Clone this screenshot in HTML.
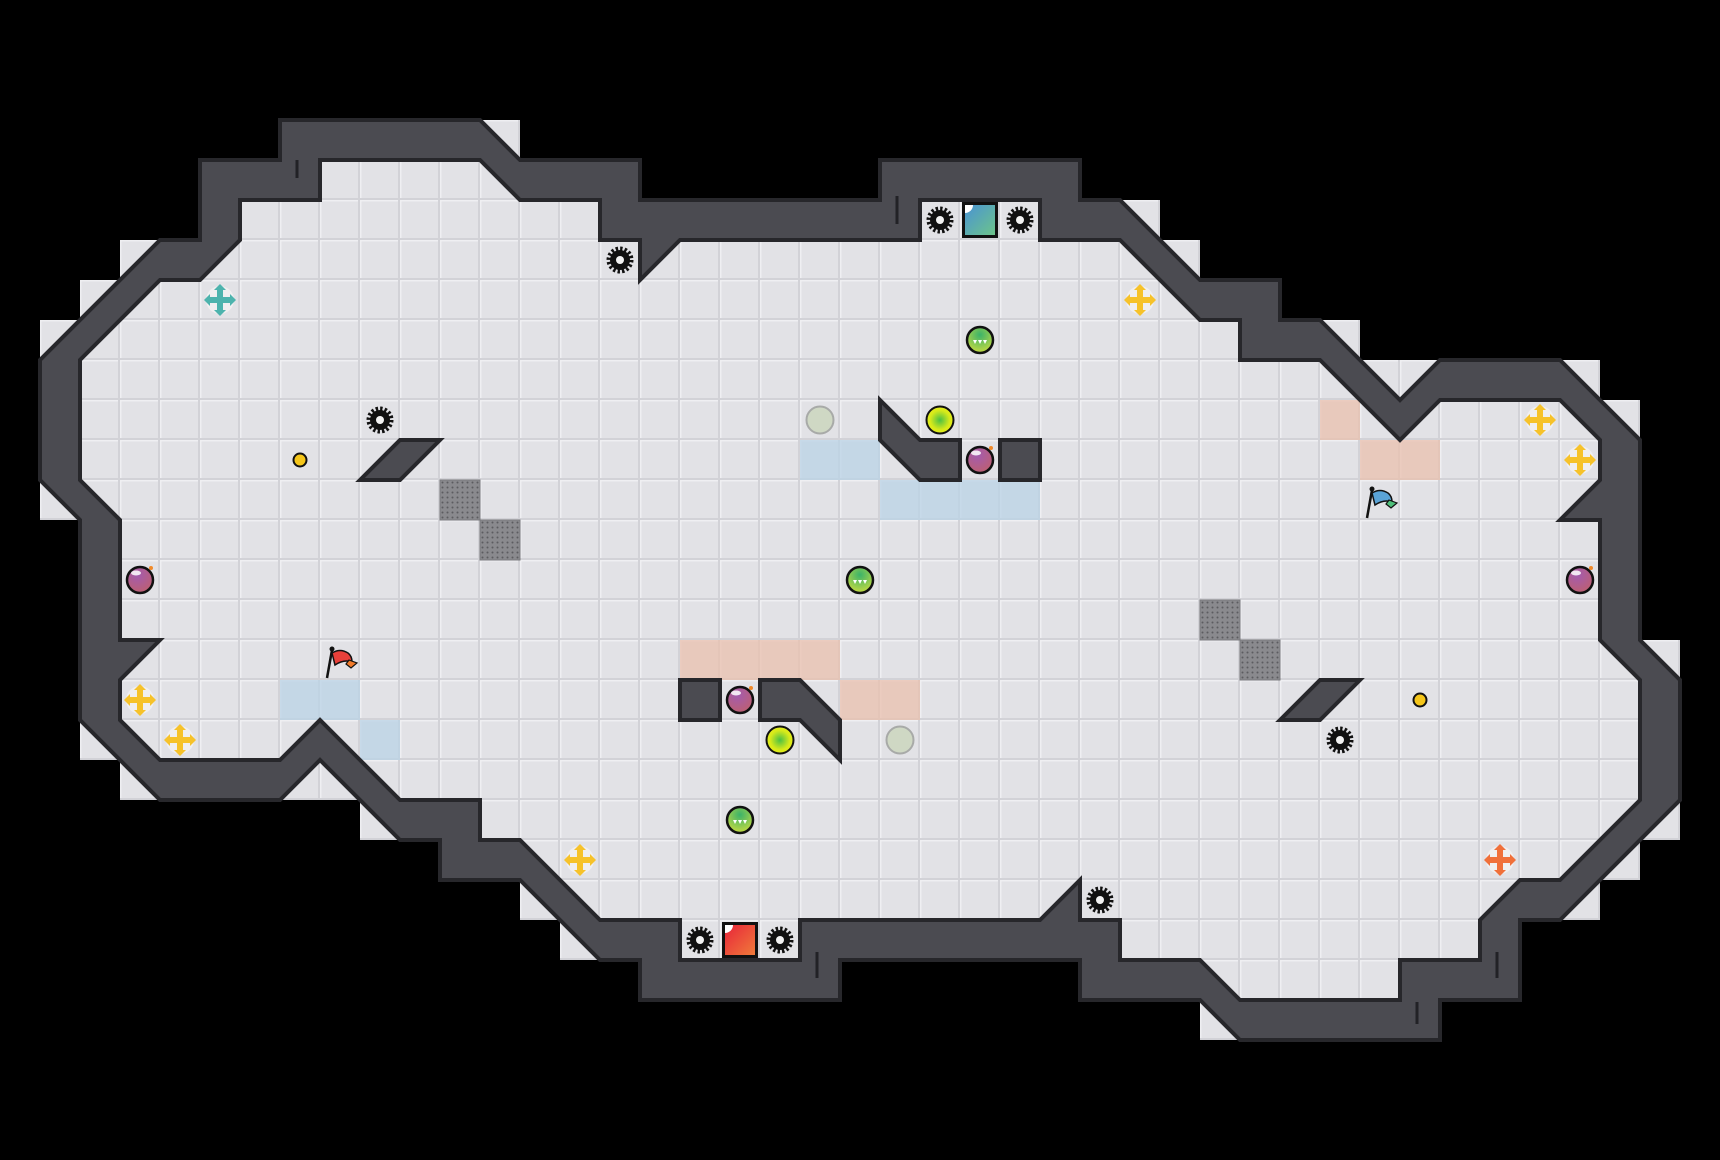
<!DOCTYPE html>
<html><head><meta charset="utf-8"><style>
html,body{margin:0;padding:0;background:#000;width:1720px;height:1160px;overflow:hidden}
svg{display:block}
</style></head><body>
<svg id="s" xmlns="http://www.w3.org/2000/svg" width="1720" height="1160" viewBox="0 0 1720 1160">
<defs>
<pattern id="tile" width="40" height="40" patternUnits="userSpaceOnUse">
<rect width="40" height="40" fill="#e2e2e6"/>
<rect x="0" y="0" width="40" height="1.5" fill="#efeff2"/>
<rect x="0" y="0" width="1.5" height="40" fill="#efeff2"/>
<rect x="38" y="0" width="2" height="40" fill="#d2d2d7"/>
<rect x="0" y="38" width="40" height="2" fill="#d2d2d7"/>
</pattern>
<radialGradient id="gPurp" cx="0.4" cy="0.3" r="0.8"><stop offset="0" stop-color="#a35bb0"/><stop offset="1" stop-color="#c0606a"/></radialGradient>
<radialGradient id="gGreen" cx="0.5" cy="0.3" r="0.8"><stop offset="0" stop-color="#3bb36a"/><stop offset="1" stop-color="#d8e03a"/></radialGradient>
<radialGradient id="gYel" cx="0.5" cy="0.5" r="0.6"><stop offset="0" stop-color="#4cc043"/><stop offset="0.6" stop-color="#d7ea1a"/><stop offset="1" stop-color="#eef01a"/></radialGradient>
<linearGradient id="gBlueP" x1="0" y1="0" x2="1" y2="1"><stop offset="0" stop-color="#4a93d4"/><stop offset="1" stop-color="#6cc48a"/></linearGradient>
<linearGradient id="gRedP" x1="0" y1="0" x2="1" y2="1"><stop offset="0" stop-color="#e8253a"/><stop offset="1" stop-color="#f07a3a"/></linearGradient>
<pattern id="grate" width="5" height="5" patternUnits="userSpaceOnUse"><rect width="5" height="5" fill="#8a8a8e"/><circle cx="2.5" cy="2.5" r="1" fill="#5c5c60"/></pattern>
</defs>
<g id="floor"></g>
<g id="over"></g>
<g id="walls"></g>
<g id="items"></g>
</svg>
<script>
var NS="http://www.w3.org/2000/svg";
function el(p,t,a){var e=document.createElementNS(NS,t);for(var k in a)e.setAttribute(k,a[k]);p.appendChild(e);return e;}
var T=40;
var outer=[[7,3],[12,3],[13,4],[16,4],[16,5],[22,5],[22,4],[27,4],[27,5],[28,5],[30,7],[32,7],[32,8],[33,8],[35,10],[36,9],[39,9],[41,11],[41,16],[42,17],[42,20],[39,23],[38,23],[38,25],[36,25],[36,26],[31,26],[30,25],[27,25],[27,24],[21,24],[21,25],[16,25],[16,24],[15,24],[13,22],[11,22],[11,21],[10,21],[8,19],[7,20],[4,20],[2,18],[2,13],[1,12],[1,9],[4,6],[5,6],[5,4],[7,4]];
var inner=[[8,4],[12,4],[13,5],[15,5],[15,6],[16,6],[16,7],[17,6],[23,6],[23,5],[26,5],[26,6],[28,6],[29,7],[30,8],[31,8],[31,9],[33,9],[34,10],[35,11],[36,10],[39,10],[40,11],[40,12],[39,13],[40,13],[40,16],[41,17],[41,20],[40,21],[39,22],[38,22],[37,23],[37,24],[35,24],[35,25],[31,25],[30,24],[28,24],[28,23],[27,23],[27,22],[26,23],[20,23],[20,24],[17,24],[17,23],[15,23],[14,22],[13,21],[12,21],[12,20],[10,20],[9,19],[8,18],[7,19],[4,19],[3,18],[3,17],[4,16],[3,16],[3,13],[2,12],[2,9],[3,8],[4,7],[5,7],[6,6],[6,5],[8,5]];
function inside(px,py,poly){var c=false;for(var i=0,j=poly.length-1;i<poly.length;j=i++){var xi=poly[i][0],yi=poly[i][1],xj=poly[j][0],yj=poly[j][1];if(((yi>py)!=(yj>py))&&(px<(xj-xi)*(py-yi)/(yj-yi)+xi))c=!c;}return c;}
var floor=document.getElementById('floor');
for(var r=0;r<29;r++)for(var c=0;c<43;c++){
 var pts=[[c+.1,r+.1],[c+.9,r+.1],[c+.1,r+.9],[c+.9,r+.9],[c+.5,r+.5]],lit=false;
 for(var k=0;k<pts.length;k++)if(inside(pts[k][0],pts[k][1],outer)){lit=true;break;}
 if(lit)el(floor,'rect',{x:c*T,y:r*T,width:T,height:T,fill:'url(#tile)'});
}
var over=document.getElementById('over');
function tint(c,r,col){el(over,'rect',{x:c*T,y:r*T,width:T,height:T,fill:col,opacity:0.75});}
[[20,11],[21,11],[22,12],[23,12],[24,12],[25,12],[7,17],[8,17],[9,18]].forEach(function(p){tint(p[0],p[1],'#b9d3e6');});
[[17,16],[18,16],[19,16],[20,16],[21,17],[22,17],[33,10],[34,11],[35,11]].forEach(function(p){tint(p[0],p[1],'#e9c0ae');});
[[11,12],[12,13],[30,15],[31,16]].forEach(function(p){el(over,'rect',{x:p[0]*T,y:p[1]*T,width:T,height:T,fill:'url(#grate)',stroke:'#7a7a7e','stroke-width':1});});
function pstr(poly){return poly.map(function(p){return (p[0]*T)+','+(p[1]*T);}).join(' ');}
function dpath(poly){return 'M'+poly.map(function(p){return (p[0]*T)+' '+(p[1]*T);}).join(' L')+' Z';}
var walls=document.getElementById('walls');
el(walls,'path',{d:dpath(outer)+' '+dpath(inner),'fill-rule':'evenodd',fill:'#4b4b51',stroke:'#27272b','stroke-width':4,'stroke-linejoin':'miter'});
[[[9,12],[10,11],[11,11],[10,12]],[[32,18],[33,17],[34,17],[33,18]],[[22,10],[23,11],[24,11],[24,12],[23,12],[22,11]],[[19,17],[20,17],[21,18],[21,19],[20,18],[19,18]],[[25,11],[26,11],[26,12],[25,12]],[[17,17],[18,17],[18,18],[17,18]]].forEach(function(pl){
 el(walls,'polygon',{points:pstr(pl),fill:'#4b4b51',stroke:'#27272b','stroke-width':4,'stroke-linejoin':'miter'});
});
[[297,160,178],[897,196,224],[817,952,978],[1417,1002,1024],[1497,952,978]].forEach(function(l){el(walls,'line',{x1:l[0],y1:l[1],x2:l[0],y2:l[2],stroke:'#222226','stroke-width':3});});
var it=document.getElementById('items');
function cx(c){return c*T+20;}
function gear(c,r){var g=el(it,'g',{});el(g,'circle',{cx:cx(c),cy:cx(r),r:10,fill:'#111'});
 el(g,'circle',{cx:cx(c),cy:cx(r),r:11.5,fill:'none',stroke:'#111','stroke-width':4,'stroke-dasharray':'2.4 2.1'});
 el(g,'circle',{cx:cx(c),cy:cx(r),r:4,fill:'#f2f2f2'});}
[[15,6],[23,5],[25,5],[9,10],[33,18],[17,23],[19,23],[27,22]].forEach(function(p){gear(p[0],p[1]);});
function boost(c,r,col){var x=cx(c),y=cx(r);var g=el(it,'g',{});
 el(g,'circle',{cx:x,cy:y,r:14,fill:'#f4f2f2',opacity:0.8});
 el(g,'rect',{x:x-13,y:y-3,width:26,height:6,rx:2,fill:col});
 el(g,'rect',{x:x-3,y:y-13,width:6,height:26,rx:2,fill:col});
 el(g,'polygon',{points:(x-16)+','+y+' '+(x-10)+','+(y-6)+' '+(x-10)+','+(y+6),fill:col});
 el(g,'polygon',{points:(x+16)+','+y+' '+(x+10)+','+(y-6)+' '+(x+10)+','+(y+6),fill:col});
 el(g,'polygon',{points:x+','+(y-16)+' '+(x-6)+','+(y-10)+' '+(x+6)+','+(y-10),fill:col});
 el(g,'polygon',{points:x+','+(y+16)+' '+(x-6)+','+(y+10)+' '+(x+6)+','+(y+10),fill:col});}
boost(5,7,'#4db3ad');
[[28,7],[38,10],[39,11],[3,17],[4,18],[14,21]].forEach(function(p){boost(p[0],p[1],'#f6c22a');});
boost(37,21,'#f0703a');
function portal(c,r,f){el(it,'rect',{x:c*T+2,y:r*T+2,width:36,height:36,fill:'#111'});el(it,'rect',{x:c*T+5,y:r*T+5,width:30,height:30,fill:f});el(it,'path',{d:'M'+(c*T+5)+' '+(r*T+5)+' h8 a8 8 0 0 1 -8 8 Z',fill:'#fff'});}
portal(24,5,'url(#gBlueP)');portal(18,23,'url(#gRedP)');
function bomb(c,r){var x=cx(c),y=cx(r);el(it,'circle',{cx:x,cy:y,r:13,fill:'url(#gPurp)',stroke:'#111','stroke-width':2.5});el(it,'ellipse',{cx:x-4,cy:y-7,rx:5,ry:2.5,fill:'#fff',opacity:0.85});el(it,'circle',{cx:x+11,cy:y-12,r:2,fill:'#f08a2a'});}
[[3,14],[39,14],[24,11],[18,17]].forEach(function(p){bomb(p[0],p[1]);});
function green(c,r){var x=cx(c),y=cx(r);el(it,'circle',{cx:x,cy:y,r:13,fill:'url(#gGreen)',stroke:'#111','stroke-width':2.5});
 for(var i=0;i<3;i++){var ox=x-7+i*5;el(it,'polygon',{points:ox+','+(y)+' '+(ox+4)+','+y+' '+(ox+2)+','+(y+4),fill:'#fff'});}}
[[24,8],[21,14],[18,20]].forEach(function(p){green(p[0],p[1]);});
[[23,10],[19,18]].forEach(function(p){el(it,'circle',{cx:cx(p[0]),cy:cx(p[1]),r:13.5,fill:'url(#gYel)',stroke:'#111','stroke-width':2});});
[[20,10],[22,18]].forEach(function(p){el(it,'circle',{cx:cx(p[0]),cy:cx(p[1]),r:13.5,fill:'#cfd8c4',stroke:'#a8aaa8','stroke-width':2});});
[[7,11],[35,17]].forEach(function(p){el(it,'circle',{cx:cx(p[0]),cy:cx(p[1]),r:6.5,fill:'#f5c61a',stroke:'#111','stroke-width':2});});
function flag(c,r,col,col2){var x=c*T,y=r*T;
 el(it,'line',{x1:x+7,y1:y+38,x2:x+12,y2:y+10,stroke:'#111','stroke-width':2.5});
 el(it,'circle',{cx:x+12,cy:y+9,r:2.5,fill:'#111'});
 el(it,'path',{d:'M'+(x+12)+' '+(y+13)+' q8 -5 16 0 q4 3 4 9 q-8 -3 -17 3 Z',fill:col,stroke:'#111','stroke-width':1.5});
 el(it,'path',{d:'M'+(x+29)+' '+(y+20)+' l8 3 l-6 5 l-5 -4 Z',fill:col2,stroke:'#111','stroke-width':1.2});}
flag(8,16,'#e8403a','#f07a2a');flag(34,12,'#5aa3d6','#4fbf7a');
</script>
</body></html>
